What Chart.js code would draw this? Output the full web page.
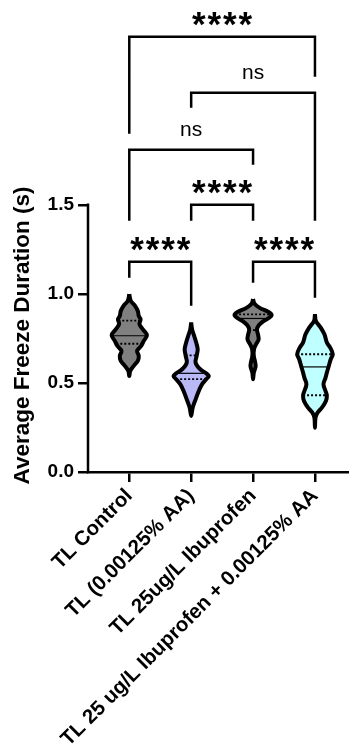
<!DOCTYPE html>
<html>
<head>
<meta charset="utf-8">
<script src="https://cdn.jsdelivr.net/npm/chart.js@4"></script>
<style>
  html, body { margin: 0; padding: 0; background: #fff; }
  canvas { display: block; }
</style>
</head>
<body>
<canvas id="violino" width="349" height="754"></canvas>
<script>
const groups = ['TL Control', 'TL (0.00125% AA)', 'TL 25ug/L Ibuprofen', 'TL 25 ug/L Ibuprofen + 0.00125% AA'];
const fillColors = ['#808080', '#b9b9f7', '#808080', '#c0ffff'];

// density profile of each group: freeze duration (s) and relative width
const controlLevels = [0.998, 0.961, 0.933, 0.904, 0.876, 0.858, 0.830, 0.801, 0.768, 0.736, 0.708, 0.680, 0.652, 0.624, 0.596, 0.567, 0.539];
const controlDensity = [0, 0.08, 0.31, 0.46, 0.51, 0.61, 0.55, 0.73, 0.95, 0.78, 0.64, 0.42, 0.51, 0.46, 0.24, 0.05, 0];
const aaLevels = [0.839, 0.801, 0.764, 0.727, 0.689, 0.655, 0.614, 0.577, 0.554, 0.539, 0.521, 0.493, 0.455, 0.408, 0.361, 0.315];
const aaDensity = [0, 0.05, 0.16, 0.27, 0.35, 0.30, 0.24, 0.49, 0.81, 0.95, 0.81, 0.59, 0.41, 0.24, 0.08, 0];
const ibuLevels = [0.970, 0.945, 0.920, 0.900, 0.882, 0.862, 0.845, 0.825, 0.801, 0.770, 0.745, 0.717, 0.689, 0.652, 0.596, 0.558, 0.521];
const ibuDensity = [0, 0.08, 0.38, 0.81, 1.0, 0.81, 0.54, 0.32, 0.21, 0.27, 0.30, 0.16, 0.05, 0.04, 0.14, 0.04, 0];
const ibuAaLevels = [0.886, 0.848, 0.811, 0.773, 0.727, 0.698, 0.661, 0.633, 0.590, 0.558, 0.530, 0.493, 0.455, 0.431, 0.399, 0.361, 0.333, 0.305, 0.249];
const ibuAaDensity = [0, 0.05, 0.31, 0.51, 0.64, 0.82, 0.96, 0.85, 0.73, 0.64, 0.57, 0.46, 0.57, 0.64, 0.59, 0.37, 0.14, 0.03, 0];

const medians = [0.765, 0.554, 0.862, 0.590];
const upperQuartiles = [0.850, 0.655, 0.885, 0.661];
const lowerQuartiles = [0.720, 0.521, 0.796, 0.431];

const yTicks = [0, 0.5, 1.0, 1.5];

// multiple comparisons between groups
const pairFrom = [0, 2, 1, 0, 1, 0];
const pairTo = [1, 3, 2, 2, 3, 3];
const significance = ['****', '****', '****', 'ns', 'ns', '****'];

// bracket heights on the y axis (top bar, left leg end, right leg end)
const bracketTop = [1.18, 1.18, 1.5, 1.809, 2.129, 2.444];
const legFrom = [1.09, 1.062, 1.41, 1.41, 2.045, 1.899];
const legTo = [0.933, 0.978, 1.41, 1.725, 1.41, 2.219];

const profiles = [
  [controlLevels, controlDensity],
  [aaLevels, aaDensity],
  [ibuLevels, ibuDensity],
  [ibuAaLevels, ibuAaDensity]
];

const halfWidth = 0.3;
const font = '"Liberation Sans", Arial, sans-serif';

function widthAt(levels, density, v) {
  for (let i = 0; i < levels.length - 1; i++) {
    const a = levels[i], b = levels[i + 1];
    if (v <= a && v >= b) {
      const t = (a - v) / (a - b);
      return density[i] + t * (density[i + 1] - density[i]);
    }
  }
  return 0;
}

function outline(i, levels, density) {
  const right = levels.map((v, k) => ({ x: i + density[k] * halfWidth, y: v }));
  const left = levels.slice(1, -1).map((v, k) => ({ x: i - density[k + 1] * halfWidth, y: v })).reverse();
  return right.concat(left, [right[0]]);
}

const datasets = [];

profiles.forEach((p, i) => {
  datasets.push({
    data: outline(i, p[0], p[1]),
    showLine: true,
    fill: 'shape',
    backgroundColor: fillColors[i],
    borderColor: '#000',
    borderWidth: 4,
    borderJoinStyle: 'round',
    tension: 0.35,
    pointRadius: 0,
    order: 3
  });

  [[medians[i], []], [upperQuartiles[i], [2, 2]], [lowerQuartiles[i], [2, 2]]].forEach(([v, dash]) => {
    const w = widthAt(p[0], p[1], v) * halfWidth;
    datasets.push({
      data: [{ x: i - w, y: v }, { x: i + w, y: v }],
      showLine: true,
      borderColor: '#000',
      borderWidth: dash.length ? 1.8 : 1.2,
      borderDash: dash,
      pointRadius: 0,
      order: 2
    });
  });
});

significance.forEach((s, k) => {
  datasets.push({
    data: [
      { x: pairFrom[k], y: legFrom[k] },
      { x: pairFrom[k], y: bracketTop[k] },
      { x: pairTo[k], y: bracketTop[k] },
      { x: pairTo[k], y: legTo[k] }
    ],
    showLine: true,
    borderColor: '#000',
    borderWidth: 2.5,
    borderJoinStyle: 'miter',
    pointRadius: 0,
    order: 1
  });
});

const extras = {
  id: 'extras',
  afterDraw(chart) {
    const { ctx, scales: { x, y } } = chart;
    ctx.save();

    // left axis only runs over the tick range
    ctx.strokeStyle = '#000';
    ctx.lineWidth = 2.5;
    ctx.lineCap = 'square';
    ctx.beginPath();
    ctx.moveTo(x.left, y.getPixelForValue(yTicks[0]));
    ctx.lineTo(x.left, y.getPixelForValue(yTicks[yTicks.length - 1]));
    ctx.stroke();

    ctx.fillStyle = '#000';
    ctx.textAlign = 'center';
    ctx.textBaseline = 'alphabetic';
    significance.forEach((s, k) => {
      const cx = (x.getPixelForValue(pairFrom[k]) + x.getPixelForValue(pairTo[k])) / 2;
      const top = y.getPixelForValue(bracketTop[k]);
      if (s === 'ns') {
        ctx.font = '21px ' + font;
        const m = ctx.measureText(s);
        ctx.fillText(s, cx, top - 19 - (m.actualBoundingBoxDescent - m.actualBoundingBoxAscent) / 2);
      } else {
        ctx.font = 'bold 35px ' + font;
        const m = ctx.measureText('*');
        const base = top - 18 - (m.actualBoundingBoxDescent - m.actualBoundingBoxAscent) / 2;
        for (let j = 0; j < s.length; j++) {
          ctx.fillText('*', cx + (j - (s.length - 1) / 2) * 15.5, base);
        }
      }
    });

    ctx.translate(23, (y.getPixelForValue(yTicks[0]) + y.getPixelForValue(yTicks[yTicks.length - 1])) / 2 - 3);
    ctx.rotate(-Math.PI / 2);
    ctx.font = 'bold 22.5px ' + font;
    ctx.textBaseline = 'middle';
    ctx.fillText('Average Freeze Duration (s)', 0, 0);
    ctx.restore();
  }
};

new Chart(document.getElementById('violino'), {
  type: 'scatter',
  data: { datasets },
  options: {
    responsive: false,
    animation: false,
    layout: { padding: 0 },
    plugins: { legend: { display: false }, tooltip: { enabled: false } },
    scales: {
      x: {
        type: 'linear',
        min: -0.667,
        max: 3.55,
        border: { display: true, color: '#000', width: 2.5 },
        grid: { drawOnChartArea: false, tickLength: 10, lineWidth: 2.5, color: '#000' },
        ticks: {
          autoSkip: false,
          minRotation: 45,
          maxRotation: 45,
          padding: 2,
          color: '#000',
          font: { family: font, size: 20.5, weight: 'bold' },
          callback: v => groups[v]
        },
        afterBuildTicks: s => { s.ticks = groups.map((g, i) => ({ value: i })); },
        afterFit: s => { s.height = 282; s.paddingLeft = 0; s.paddingRight = 0; }
      },
      y: {
        min: 0,
        max: 2.65,
        border: { display: false },
        grid: { drawOnChartArea: false, tickLength: 10, lineWidth: 2.5, color: '#000' },
        ticks: {
          padding: 4,
          color: '#000',
          font: { family: font, size: 19, weight: 'bold' },
          callback: v => v.toFixed(1)
        },
        afterBuildTicks: s => { s.ticks = yTicks.map(v => ({ value: v })); },
        afterFit: s => { s.width = 88; s.paddingTop = 0; s.paddingBottom = 0; }
      }
    }
  },
  plugins: [extras]
});
</script>
</body>
</html>
